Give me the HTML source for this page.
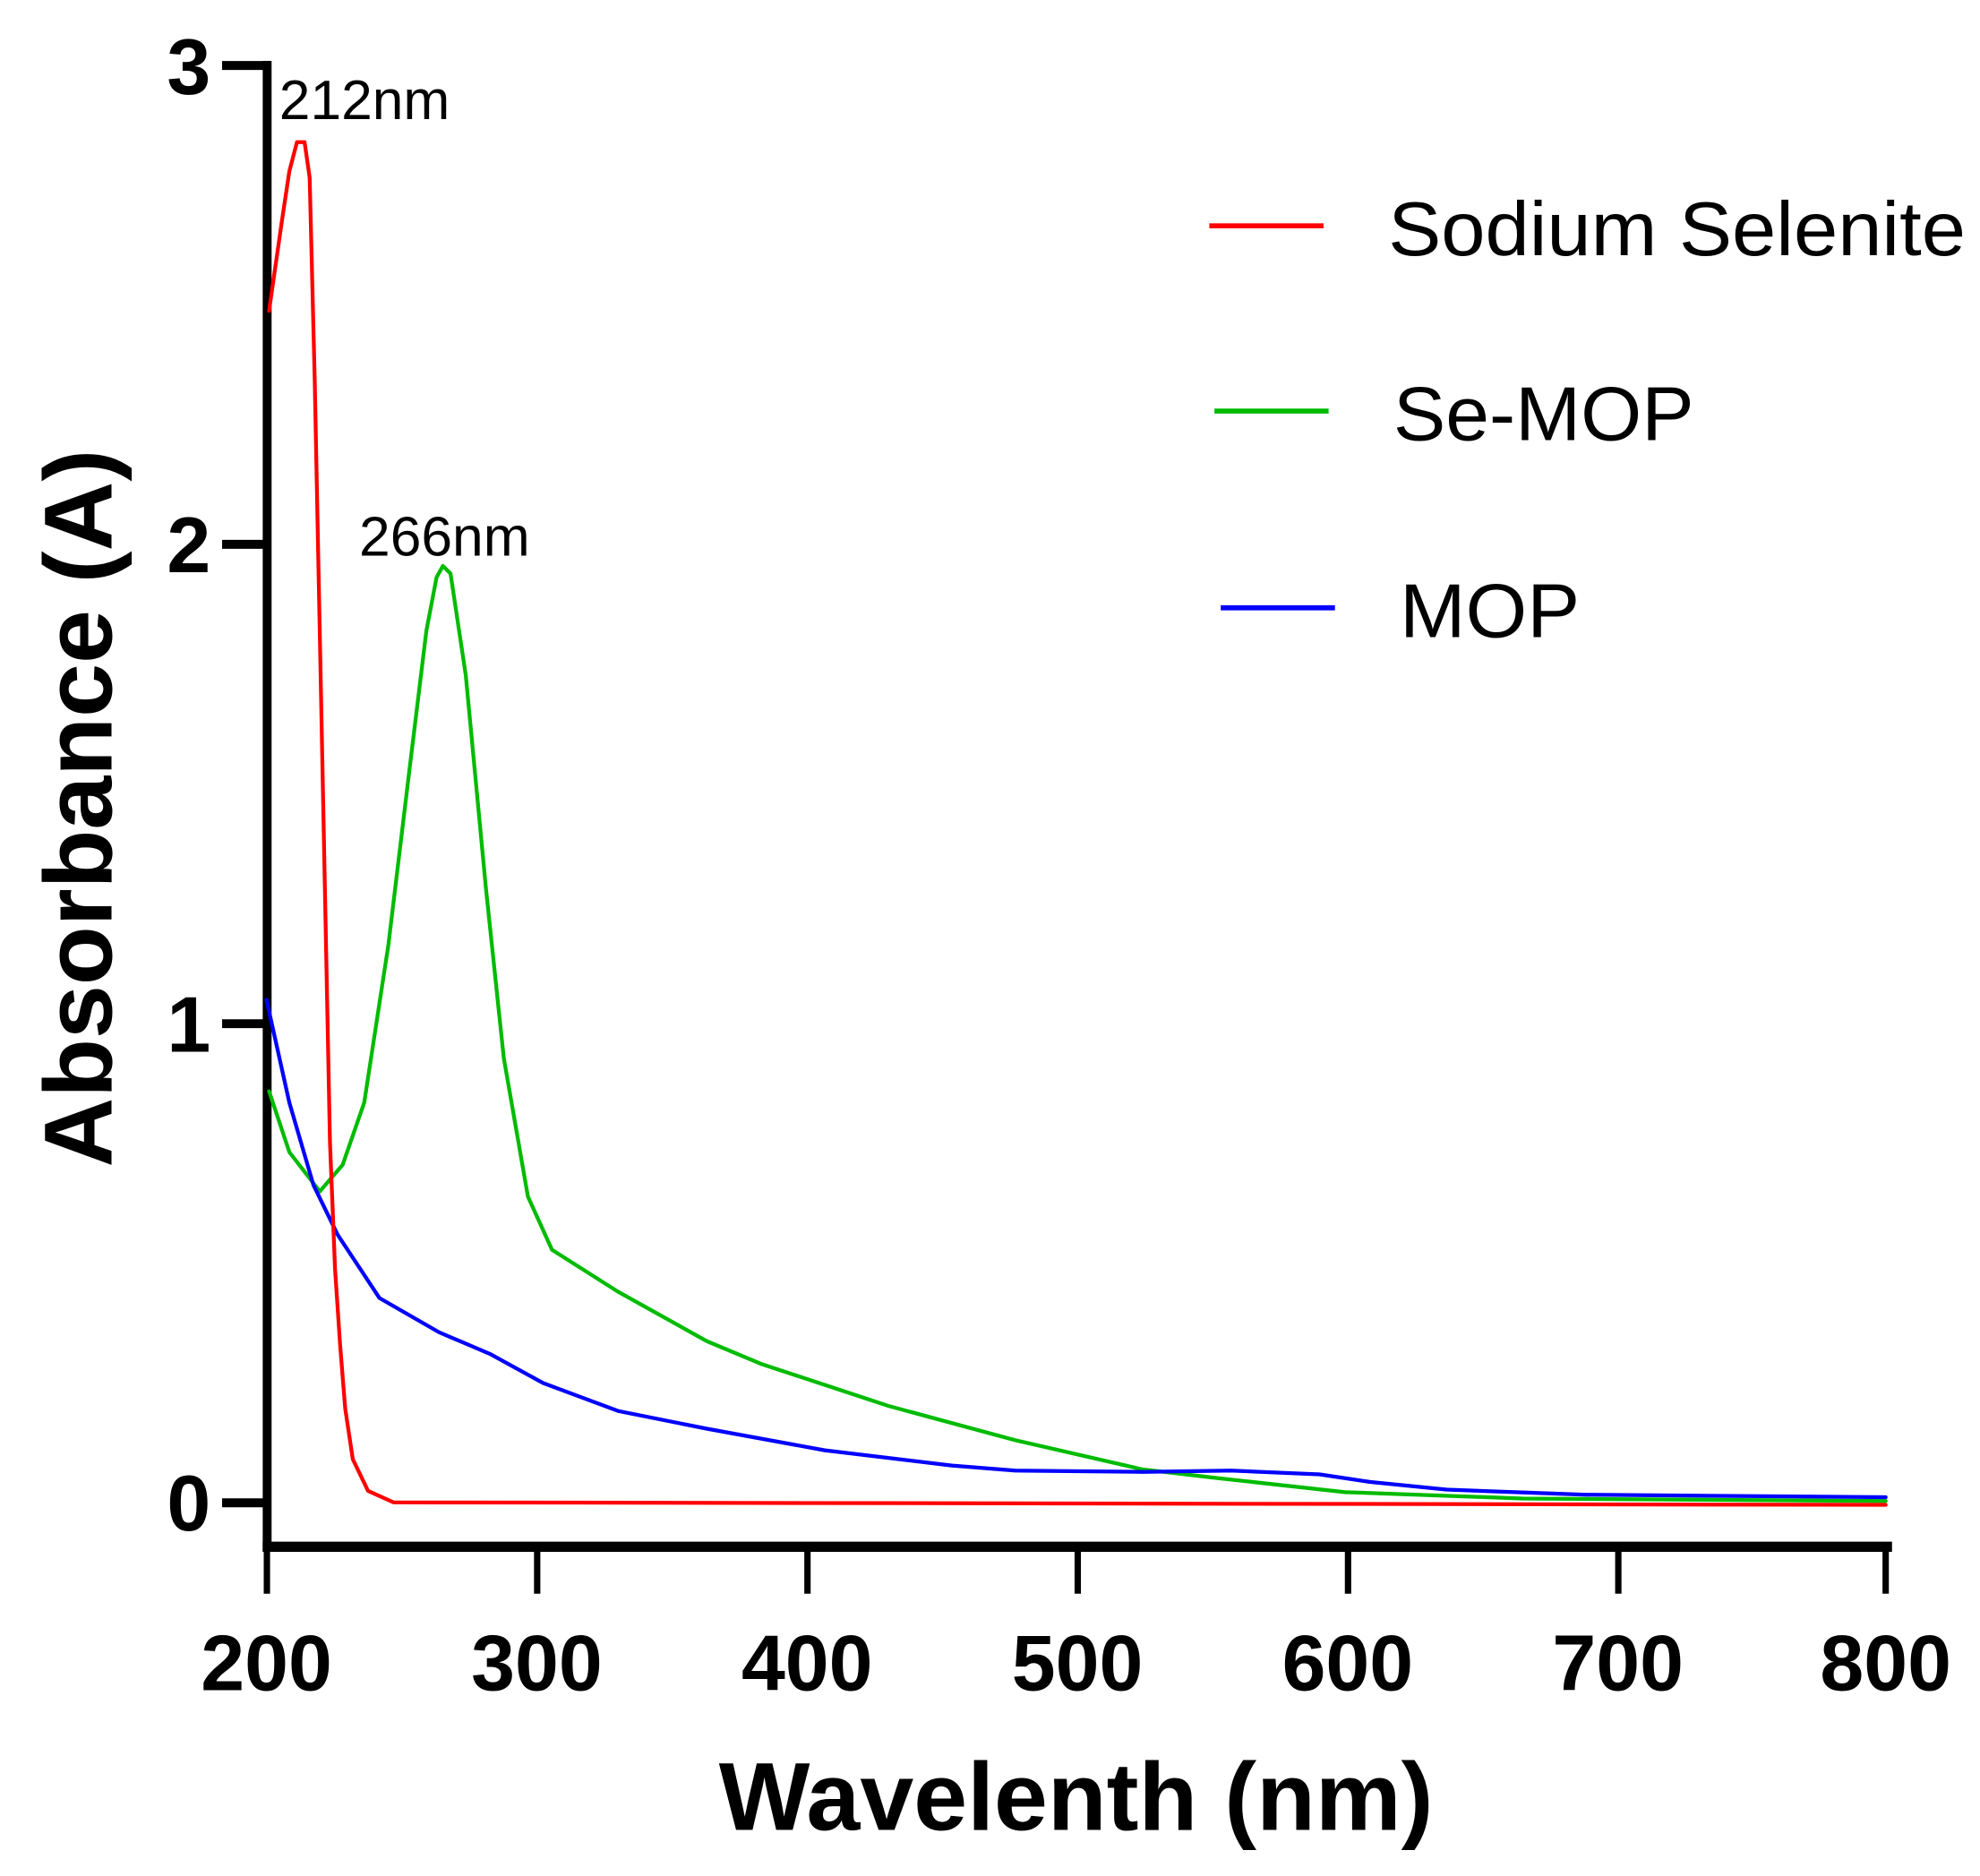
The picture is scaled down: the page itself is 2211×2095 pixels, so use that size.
<!DOCTYPE html>
<html><head><meta charset="utf-8"><style>html,body{margin:0;padding:0;background:#fff;}svg{display:block}</style></head>
<body>
<svg width="2211" height="2095" viewBox="0 0 1560.3 1478.5" xmlns="http://www.w3.org/2000/svg">
<rect width="1560.3" height="1478.5" fill="#fff"/>
<g font-family="Liberation Sans, sans-serif" fill="#000">
<!-- axes -->
<line x1="210.5" y1="48" x2="210.5" y2="1223" stroke="#000" stroke-width="7"/>
<line x1="207" y1="1219" x2="1491" y2="1219" stroke="#000" stroke-width="8"/>
<g stroke="#000" stroke-width="7">
<line x1="175" y1="51.6" x2="211" y2="51.6"/>
<line x1="175" y1="429" x2="211" y2="429"/>
<line x1="175" y1="806.8" x2="211" y2="806.8"/>
<line x1="175" y1="1184.4" x2="211" y2="1184.4"/>
</g>
<g stroke="#000" stroke-width="5">
<line x1="210.3" y1="1219" x2="210.3" y2="1256"/>
<line x1="423.3" y1="1219" x2="423.3" y2="1256"/>
<line x1="636.3" y1="1219" x2="636.3" y2="1256"/>
<line x1="849.3" y1="1219" x2="849.3" y2="1256"/>
<line x1="1062.3" y1="1219" x2="1062.3" y2="1256"/>
<line x1="1275.3" y1="1219" x2="1275.3" y2="1256"/>
<line x1="1486" y1="1219" x2="1486" y2="1256"/>
</g>
<g font-size="62" font-weight="bold" text-anchor="end">
<text x="166" y="74">3</text>
<text x="166" y="451">2</text>
<text x="166" y="829">1</text>
<text x="166" y="1206">0</text>
</g>
<g font-size="62" font-weight="bold" text-anchor="middle">
<text x="210" y="1332">200</text>
<text x="423" y="1332">300</text>
<text x="636" y="1332">400</text>
<text x="849" y="1332">500</text>
<text x="1062" y="1332">600</text>
<text x="1275" y="1332">700</text>
<text x="1486" y="1332">800</text>
</g>
<text x="848" y="1442" font-size="76" font-weight="bold" text-anchor="middle">Wavelenth (nm)</text>
<text transform="translate(88,637) rotate(-90)" font-size="76" font-weight="bold" text-anchor="middle">Absorbance (A)</text>
<text x="220" y="94" font-size="44">212nm</text>
<text x="283" y="438" font-size="44">266nm</text>
<!-- legend -->
<line x1="953" y1="178" x2="1043" y2="178" stroke="#f00" stroke-width="4"/>
<line x1="957" y1="324" x2="1047" y2="324" stroke="#00bb00" stroke-width="4"/>
<line x1="962" y1="479" x2="1052" y2="479" stroke="#0000ff" stroke-width="4"/>
<g font-size="60">
<text x="1094" y="201" textLength="455" lengthAdjust="spacingAndGlyphs">Sodium Selenite</text>
<text x="1098" y="347" textLength="237" lengthAdjust="spacingAndGlyphs">Se-MOP</text>
<text x="1103" y="502" textLength="142" lengthAdjust="spacingAndGlyphs">MOP</text>
</g>
</g>
<!-- series -->
<g fill="none" stroke-width="3" stroke-linejoin="round" stroke-linecap="round">
<polyline stroke="#00bb00" points="212,860 228,908 252,939 270,918 287,869 306,745 322,612 336,497 344,455 349,446 355,452 367,532 383,701 397,834 416,943 435,985 487,1018 557,1057 600,1075 700,1108 800,1135 900,1158 960,1165 1060,1176 1200,1181 1486,1183"/>
<polyline stroke="#0000ff" points="210,788 228,869 247,934 266,973 299,1023 346,1050 386,1067 428,1090 487,1112 557,1126 650,1143 750,1155 800,1159 900,1160 970,1159 1040,1162 1080,1168 1140,1174 1250,1178 1486,1180"/>
<polyline stroke="#ff0000" points="212,245 222,175 228,135 234,112 240,112 244,140 248,300 252,500 256,700 260,900 264,1000 268,1060 272,1110 278,1150 290,1175 310,1184 1486,1186"/>
</g>
</svg>
</body></html>
